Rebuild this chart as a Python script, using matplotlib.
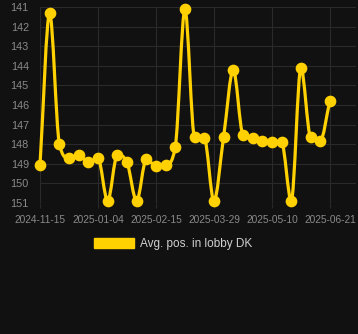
import numpy as np
import matplotlib
matplotlib.use("Agg")
import matplotlib.pyplot as plt
from matplotlib.path import Path
from matplotlib.patches import PathPatch, Patch

plt.rcParams["font.family"] = ["Liberation Sans", "DejaVu Sans"]

# weekly avg. position in lobby (lower number = better, axis reversed)
positions = [149.05, 141.32, 147.97, 148.72, 148.55, 148.9, 148.72, 150.9,
             148.55, 148.92, 150.9, 148.77, 149.1, 149.06, 148.13, 141.12,
             147.65, 147.7, 150.9, 147.62, 144.2, 147.52, 147.7, 147.82,
             147.87, 147.9, 150.9, 144.1, 147.65, 147.82, 145.78]
tick_idx = [0, 6, 12, 18, 24, 30]
tick_labels = ["2024-11-15", "2025-01-04", "2025-02-15", "2025-03-29",
               "2025-05-10", "2025-06-21"]
y_ticks = list(range(141, 152))
label = "Avg. pos. in lobby DK"

bg = "#111111"
gold = "#FFD100"
grid_c = "#2a2a2a"
text_c = "#8a8a8a"


def monotone_path(x, y):
    # monotone cubic (Fritsch-Carlson) drawn as bezier segments
    x = np.asarray(x, float)
    y = np.asarray(y, float)
    n = len(x)
    d = np.diff(y) / np.diff(x)
    m = np.zeros(n)
    m[0], m[-1] = d[0], d[-1]
    for i in range(1, n - 1):
        if d[i - 1] * d[i] > 0:
            m[i] = (d[i - 1] + d[i]) / 2
    for i in range(n - 1):
        if d[i] == 0:
            m[i] = m[i + 1] = 0
            continue
        a, b = m[i] / d[i], m[i + 1] / d[i]
        s = a * a + b * b
        if s > 9:
            t = 3 / np.sqrt(s)
            m[i], m[i + 1] = t * a * d[i], t * b * d[i]
    verts = [(x[0], y[0])]
    codes = [Path.MOVETO]
    for i in range(n - 1):
        h = (x[i + 1] - x[i]) / 3
        verts += [(x[i] + h, y[i] + m[i] * h),
                  (x[i + 1] - h, y[i + 1] - m[i + 1] * h),
                  (x[i + 1], y[i + 1])]
        codes += [Path.CURVE4] * 3
    return Path(verts, codes)


fig = plt.figure(figsize=(3.58, 3.34), dpi=100, facecolor=bg)
ax = fig.add_axes([40 / 358, 1 - 203 / 334, 316 / 358, 196 / 334])
ax.set_facecolor(bg)

x = np.arange(len(positions))
ax.add_patch(PathPatch(monotone_path(x, positions), fill=False,
                       edgecolor=gold, lw=2.3, capstyle="round",
                       joinstyle="round", clip_on=False, zorder=3))
ax.plot(x, positions, ls="none", marker="o", ms=7.4, color=gold,
        clip_on=False, zorder=4)

ax.set_xlim(0, 32.7)
ax.set_ylim(151, 141)
ax.set_xticks(tick_idx)
ax.set_xticklabels(tick_labels)
ax.set_yticks(y_ticks)

ax.grid(True, color=grid_c, lw=0.8)
ax.set_axisbelow(True)
for s in ax.spines.values():
    s.set_visible(False)
ax.tick_params(axis="x", colors=grid_c, labelcolor=text_c, labelsize=7.3,
               length=3.5, width=0.8, pad=5)
ax.tick_params(axis="y", labelcolor=text_c, labelsize=7.8, length=0, pad=8)

fig.legend(handles=[Patch(facecolor=gold, edgecolor=gold)], labels=[label],
           loc="center", bbox_to_anchor=(173.5 / 358, 1 - 244 / 334),
           frameon=False, fontsize=8.5, labelcolor="#d0d0d0",
           handlelength=3.4, handleheight=1.0, handletextpad=0.5)

fig.savefig("out.png", dpi=100, facecolor=bg)
